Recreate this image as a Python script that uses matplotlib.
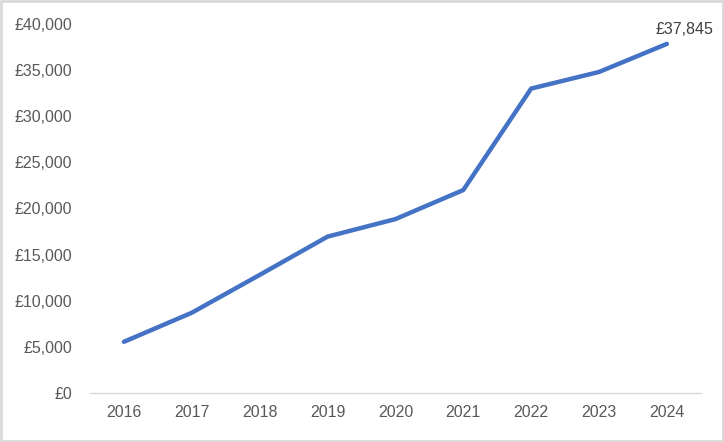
import matplotlib.pyplot as plt
from matplotlib.ticker import FuncFormatter, MultipleLocator

years = ["2016", "2017", "2018", "2019", "2020", "2021", "2022", "2023", "2024"]
salary = [5550, 8700, 12800, 16950, 18850, 22000, 33000, 34800, 37845]

line_col = "#4472C4"
text_col = "#595959"

plt.rcParams['font.family'] = ['Liberation Sans', 'DejaVu Sans']

fig = plt.figure(figsize=(7.24, 4.42), dpi=100)
ax = fig.add_axes([0.1243, 0.1109, 0.8437, 0.8348])

x = list(range(len(years)))
ax.plot(x, salary, color=line_col, lw=3.2, solid_capstyle='round', solid_joinstyle='round')
ax.annotate("£{:,}".format(salary[-1]), (x[-1], salary[-1]), xytext=(-8, 5),
            textcoords='offset points', fontsize=11.5, color="#404040", ha='left', va='bottom')

ax.set_xlim(-0.5, len(years) - 0.5)
ax.set_ylim(0, 40000)
ax.set_xticks(x)
ax.set_xticklabels(years)
ax.yaxis.set_major_locator(MultipleLocator(5000))
ax.yaxis.set_major_formatter(FuncFormatter(lambda v, p: "£{:,.0f}".format(v)))

for s in ['top', 'right', 'left']:
    ax.spines[s].set_visible(False)
ax.spines['bottom'].set_color("#d9d9d9")
ax.spines['bottom'].set_linewidth(1)
ax.tick_params(axis='both', length=0, labelsize=11.5, colors=text_col)
ax.tick_params(axis='x', pad=9)
ax.tick_params(axis='y', pad=13)

# outer chart border
fig.patches.append(plt.Rectangle((0.002, 0.003), 0.996, 0.994, transform=fig.transFigure,
                                 fill=False, edgecolor="#d9d9d9", lw=2))

fig.savefig("out.png", dpi=100)
